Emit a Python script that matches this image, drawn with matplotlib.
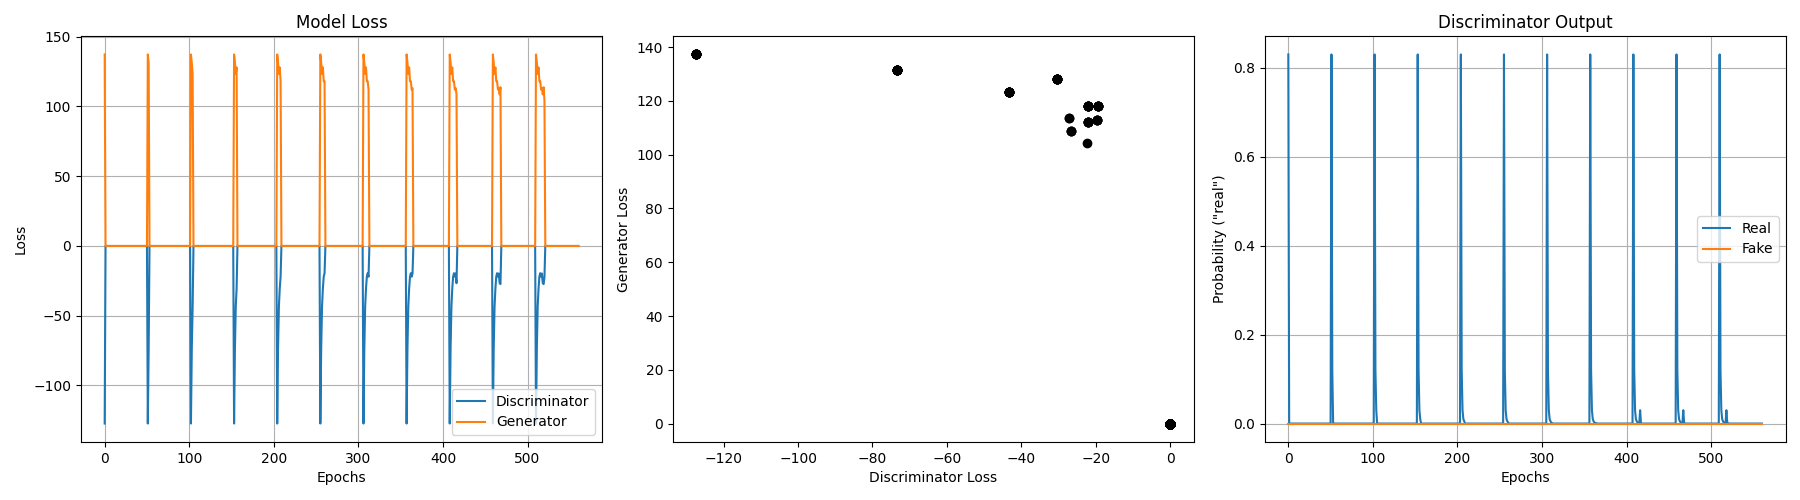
import numpy as np
import matplotlib
matplotlib.use("Agg")
import matplotlib.pyplot as plt

# ---- data ----
N_EPOCHS = 561
CYCLE_STARTS = [0, 51, 102, 153, 204, 255, 306, 357, 408, 459, 510]
ACTIVE_LEN = [1, 2, 3, 4, 5, 6, 7, 8, 9, 10, 11]
D_SEQ = [-127.3, -73.5, -43.3, -30.5, -22.0, -19.5, -22.0, -19.7, -26.7, -27.3, -22.4]
G_SEQ = [137.3, 131.4, 123.4, 128.0, 118.1, 118.1, 112.1, 113.1, 108.7, 113.8, 104.2]
REAL_SEQ = [0.83, 0.12, 0.03, 0.01, 0.005, 0.002, 0.001, 0.001, 0.03, 0.002, 0.001]
FAKE_SEQ = [0.0, 0.0, 0.0, 0.0, 0.0, 0.0, 0.0, 0.0, 0.0, 0.0, 0.0]

epochs = np.arange(N_EPOCHS)
d_loss = np.zeros(N_EPOCHS)
g_loss = np.zeros(N_EPOCHS)
real_p = np.zeros(N_EPOCHS)
fake_p = np.zeros(N_EPOCHS)
for start, n in zip(CYCLE_STARTS, ACTIVE_LEN):
    d_loss[start:start + n] = D_SEQ[:n]
    g_loss[start:start + n] = G_SEQ[:n]
    real_p[start:start + n] = REAL_SEQ[:n]
    fake_p[start:start + n] = FAKE_SEQ[:n]

fig, axes = plt.subplots(1, 3, figsize=(18, 5), dpi=100)
fig.subplots_adjust(left=0.045, right=0.992, bottom=0.116, top=0.928, wspace=0.136)

ax = axes[0]
ax.plot(epochs, d_loss, label="Discriminator")
ax.plot(epochs, g_loss, label="Generator")
ax.set_title("Model Loss")
ax.set_xlabel("Epochs")
ax.set_ylabel("Loss")
ax.grid(True)
ax.legend(loc="lower right")

ax = axes[1]
ax.scatter(d_loss, g_loss, color="black")
ax.set_xlabel("Discriminator Loss")
ax.set_ylabel("Generator Loss")

ax = axes[2]
ax.plot(epochs, real_p, label="Real")
ax.plot(epochs, fake_p, label="Fake")
ax.set_title("Discriminator Output")
ax.set_xlabel("Epochs")
ax.set_ylabel('Probability ("real")')
ax.grid(True)
ax.legend(loc="center right")

fig.savefig("out.png")
